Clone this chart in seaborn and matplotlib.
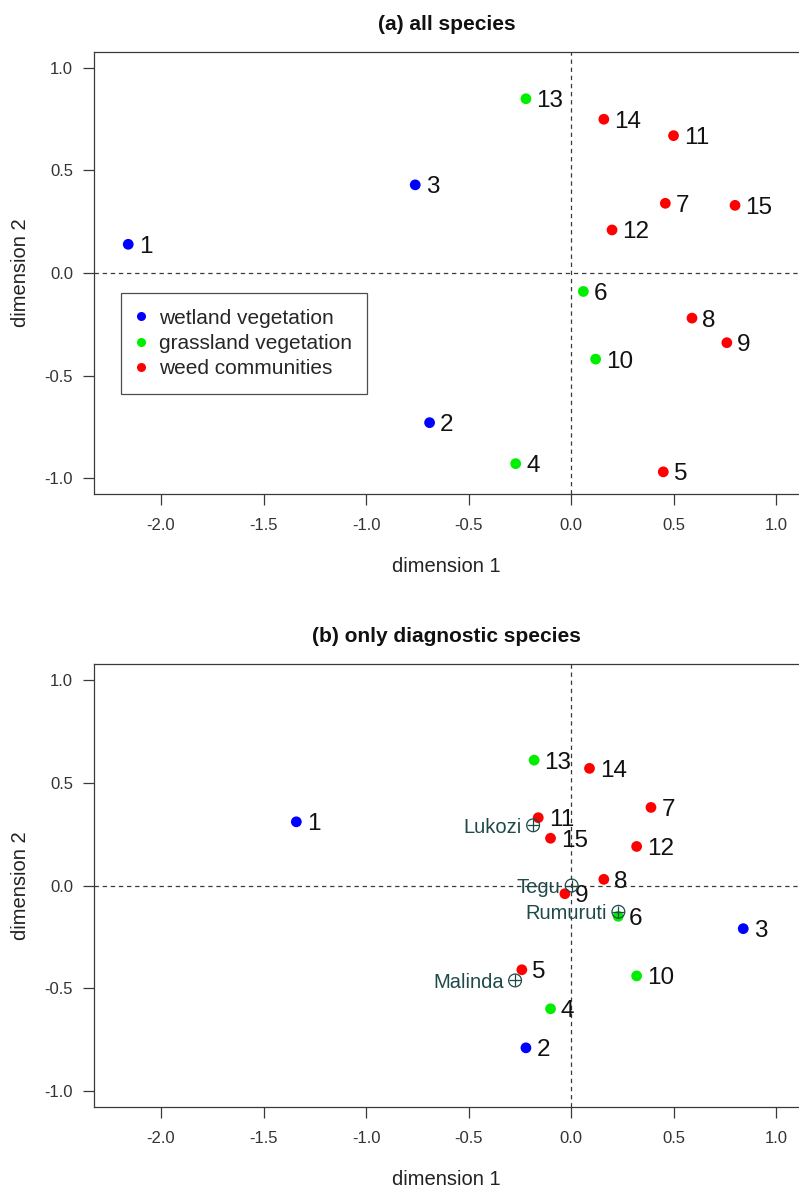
import numpy as np
import pandas as pd
import matplotlib
matplotlib.use("Agg")
import matplotlib.pyplot as plt
from matplotlib.lines import Line2D
import seaborn as sns

# releve ids and ordination scores, panel (a): all species
ids_a = [1, 2, 3, 4, 5, 6, 7, 8, 9, 10, 11, 12, 13, 14, 15]
dim1_a = [-2.16, -0.69, -0.76, -0.27, 0.45, 0.06, 0.46, 0.59, 0.76, 0.12, 0.50, 0.20, -0.22, 0.16, 0.80]
dim2_a = [0.14, -0.73, 0.43, -0.93, -0.97, -0.09, 0.34, -0.22, -0.34, -0.42, 0.67, 0.21, 0.85, 0.75, 0.33]

# panel (b): only diagnostic species
ids_b = [1, 2, 3, 4, 5, 6, 7, 8, 9, 10, 11, 12, 13, 14, 15]
dim1_b = [-1.34, -0.22, 0.84, -0.10, -0.24, 0.23, 0.39, 0.16, -0.03, 0.32, -0.16, 0.32, -0.18, 0.09, -0.10]
dim2_b = [0.31, -0.79, -0.21, -0.60, -0.41, -0.15, 0.38, 0.03, -0.04, -0.44, 0.33, 0.19, 0.61, 0.57, 0.23]

# vegetation type per releve (same in both panels)
vegtype = ["wetland vegetation", "wetland vegetation", "wetland vegetation",
           "grassland vegetation", "weed communities", "grassland vegetation",
           "weed communities", "weed communities", "weed communities",
           "grassland vegetation", "weed communities", "weed communities",
           "grassland vegetation", "weed communities", "weed communities"]

# study sites projected in panel (b)
site_names = ["Lukozi", "Tegu", "Rumuruti", "Malinda"]
site_dim1 = [-0.185, 0.003, 0.231, -0.273]
site_dim2 = [0.293, 0.0, -0.128, -0.462]

colors = {"wetland vegetation": "#0000FF",
          "grassland vegetation": "#00EE00",
          "weed communities": "#FF0000"}

sns.set_theme(style="white")
plt.rcParams["font.family"] = ["Liberation Sans", "DejaVu Sans"]

W, H = 799, 1189
fig = plt.figure(figsize=(W / 100, H / 100), dpi=100)

ax_l = 94 / W
ax_w = (W - 94) / W
ax_a = fig.add_axes([ax_l, 1 - 494 / H, ax_w, 442 / H])
ax_b = fig.add_axes([ax_l, 1 - 1107 / H, ax_w, 443 / H])

df_a = pd.DataFrame({"id": ids_a, "d1": dim1_a, "d2": dim2_a, "type": vegtype})
df_b = pd.DataFrame({"id": ids_b, "d1": dim1_b, "d2": dim2_b, "type": vegtype})
sites = pd.DataFrame({"name": site_names, "d1": site_dim1, "d2": site_dim2})

edge = "#3a3a3a"
site_col = "#1f4a4a"


def style_axes(ax, title):
    ax.set_xlim(-2.327, 1.112)
    ax.set_ylim(-1.078, 1.078)
    ax.axhline(0, color=edge, lw=0.9, ls=(0, (3.5, 3)), zorder=1)
    ax.axvline(0, color=edge, lw=0.9, ls=(0, (3.5, 3)), zorder=1)
    ax.set_xticks([-2.0, -1.5, -1.0, -0.5, 0.0, 0.5, 1.0])
    ax.set_yticks([-1.0, -0.5, 0.0, 0.5, 1.0])
    ax.xaxis.set_major_formatter(matplotlib.ticker.FormatStrFormatter("%.1f"))
    ax.yaxis.set_major_formatter(matplotlib.ticker.FormatStrFormatter("%.1f"))
    ax.tick_params(axis="both", direction="out", length=8, width=0.9,
                   color=edge, labelcolor="#333333", labelsize=12,
                   bottom=True, left=True)
    ax.tick_params(axis="x", pad=9)
    ax.tick_params(axis="y", pad=7)
    for side in ["left", "top", "bottom"]:
        ax.spines[side].set_color(edge)
        ax.spines[side].set_linewidth(0.9)
    ax.spines["right"].set_visible(False)
    ax.set_xlabel("dimension 1", fontsize=14.5, color="#222222")
    ax.set_ylabel("dimension 2", fontsize=14.5, color="#222222")
    ax.xaxis.set_label_coords(0.5, -(566 - 494) / 442)
    ax.xaxis.label.set_va("center")
    ax.yaxis.set_label_coords(-(94 - 21) / (W - 94), 0.5)
    ax.yaxis.label.set_va("center")
    ax.set_title(title, fontsize=15, fontweight="bold", color="#111111", pad=16)


for ax, df, title in [(ax_a, df_a, "(a) all species"),
                      (ax_b, df_b, "(b) only diagnostic species")]:
    sns.scatterplot(data=df, x="d1", y="d2", hue="type", palette=colors,
                    s=60, linewidth=0, legend=False, ax=ax, zorder=3)
    for _, r in df.iterrows():
        ax.annotate(str(r["id"]), (r["d1"], r["d2"]), xytext=(7.5, 0),
                    textcoords="offset points", ha="left", va="center_baseline",
                    fontsize=17.5, color="#111111", zorder=4)
    style_axes(ax, title)

# sites as circled-plus symbols
sns.scatterplot(data=sites, x="d1", y="d2", marker="o", s=85,
                facecolor="none", edgecolor=site_col, linewidth=0.9,
                legend=False, ax=ax_b, zorder=5)
sns.scatterplot(data=sites, x="d1", y="d2", marker="+", s=85,
                color=site_col, linewidth=0.9, legend=False, ax=ax_b, zorder=5)
for _, r in sites.iterrows():
    ax_b.annotate(r["name"], (r["d1"], r["d2"]), xytext=(-8, 0),
                  textcoords="offset points", ha="right", va="center_baseline",
                  fontsize=14.5, color=site_col, zorder=6)

handles = [Line2D([0], [0], marker="o", ls="none", markersize=6.5,
                  markerfacecolor=c, markeredgewidth=0, label=k)
           for k, c in colors.items()]
leg = ax_a.legend(handles=handles, loc="upper left",
                  bbox_to_anchor=((121 - 94) / (W - 94), (494 - 293) / 442),
                  borderaxespad=0, fontsize=15, frameon=True, fancybox=False,
                  borderpad=0.75, handlelength=0.38, handletextpad=0.68,
                  labelspacing=0.3)
leg.get_frame().set_edgecolor("#222222")
leg.get_frame().set_linewidth(0.9)

fig.savefig("out.png", dpi=100)
